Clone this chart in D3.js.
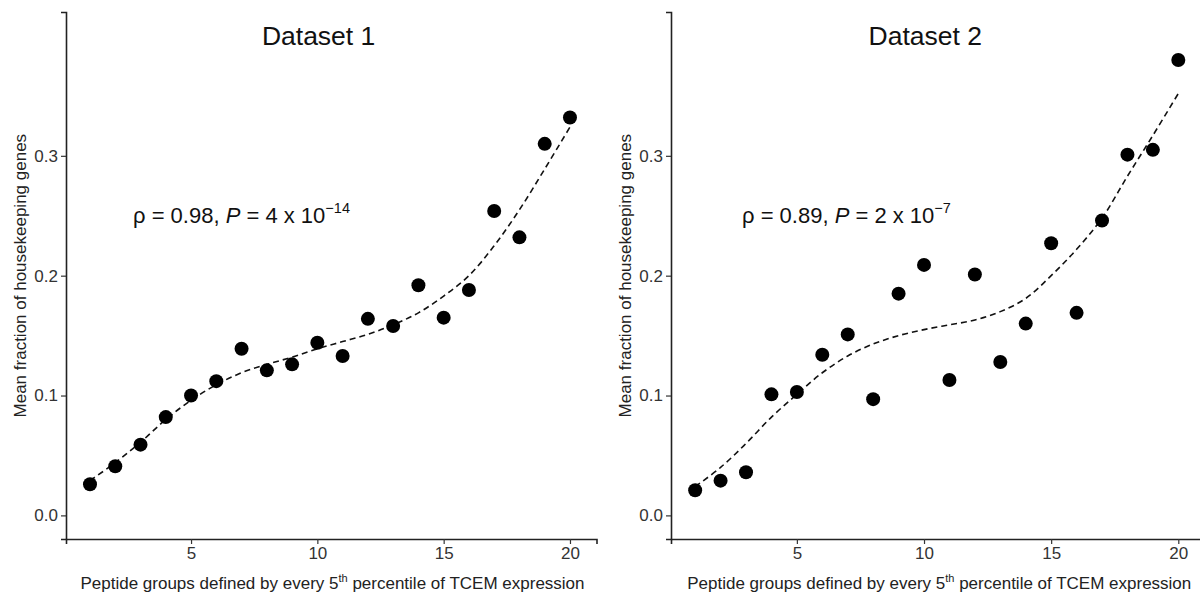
<!DOCTYPE html>
<html>
<head>
<meta charset="utf-8">
<script src="https://cdn.jsdelivr.net/npm/d3@7"></script>
<style>
  body { margin: 0; background: #fff; }
  text { font-family: "Liberation Sans", Arial, sans-serif; }
</style>
</head>
<body>
<div id="chart"></div>
<script>
// peptide groups (every 5th percentile of TCEM expression)
const groups = [1, 2, 3, 4, 5, 6, 7, 8, 9, 10, 11, 12, 13, 14, 15, 16, 17, 18, 19, 20];

// mean fraction of housekeeping genes
const dataset1 = [0.026, 0.041, 0.059, 0.082, 0.100, 0.112, 0.139, 0.121, 0.126, 0.144,
                  0.133, 0.164, 0.158, 0.192, 0.165, 0.188, 0.254, 0.232, 0.310, 0.332];
const dataset2 = [0.021, 0.029, 0.036, 0.101, 0.103, 0.134, 0.151, 0.097, 0.185, 0.209,
                  0.113, 0.201, 0.128, 0.160, 0.227, 0.169, 0.246, 0.301, 0.305, 0.380];

// dashed smooth fit
const fit1 = [0.029, 0.044, 0.061, 0.080, 0.096, 0.109, 0.119, 0.126, 0.132, 0.139,
              0.145, 0.151, 0.159, 0.169, 0.183, 0.200, 0.225, 0.255, 0.289, 0.324];
const fit2 = [0.024, 0.040, 0.060, 0.082, 0.101, 0.119, 0.133, 0.143, 0.150, 0.155,
              0.159, 0.163, 0.170, 0.181, 0.200, 0.222, 0.248, 0.283, 0.317, 0.352];

const titles = ["Dataset 1", "Dataset 2"];
const rhos = ["0.98", "0.89"];
const pMantissa = ["4", "2"];
const pExponent = ["\u221214", "\u22127"];

const xTicks = [5, 10, 15, 20];
const yTicks = [0.0, 0.1, 0.2, 0.3];

const W = 1200, H = 596;
const svg = d3.select("#chart").append("svg")
  .attr("width", W).attr("height", H);

const panels = [
  {x0: 66,  x1: 596.5, annX: 133, values: dataset1, fit: fit1},
  {x0: 671, x1: 1205,  annX: 742, values: dataset2, fit: fit2}
];

const plotTop = 12, plotBottom = 539;

panels.forEach((p, i) => {
  const g = svg.append("g");

  const x = d3.scaleLinear().domain([0.05, 21.05]).range([p.x0, p.x1]);
  const y = d3.scaleLinear().domain([-0.0197, 0.42]).range([plotBottom, plotTop]);

  // axes
  const xAxis = g.append("g")
    .attr("transform", `translate(0,${plotBottom})`)
    .call(d3.axisBottom(x).tickValues(xTicks).tickSizeOuter(0).tickSize(5).tickPadding(3));
  const yAxis = g.append("g")
    .attr("transform", `translate(${p.x0},0)`)
    .call(d3.axisLeft(y).tickValues(yTicks).tickFormat(d3.format(".1f")).tickSizeOuter(0).tickSize(5).tickPadding(3));

  [xAxis, yAxis].forEach(a => {
    a.select(".domain").attr("stroke", "#222").attr("stroke-width", 1.6);
    a.selectAll(".tick line").attr("stroke", "#333").attr("stroke-width", 1.2);
    a.selectAll(".tick text")
      .attr("fill", "#333")
      .style("font-size", "17px")
      .style("font-family", "'Liberation Sans', Arial, sans-serif");
  });

  // axis titles
  const xt = g.append("text")
    .attr("x", x(10.6))
    .attr("y", 589)
    .attr("text-anchor", "middle")
    .attr("fill", "#222")
    .style("font-size", "17px");
  xt.append("tspan").text("Peptide groups defined by every 5");
  xt.append("tspan").attr("dy", -7).style("font-size", "11px").text("th");
  xt.append("tspan").attr("dy", 7).text(" percentile of TCEM expression");

  g.append("text")
    .attr("transform", `translate(${p.x0 - 40},${y(0.2)}) rotate(-90)`)
    .attr("text-anchor", "middle")
    .attr("fill", "#222")
    .style("font-size", "17px")
    .text("Mean fraction of housekeeping genes");

  // panel title
  g.append("text")
    .attr("x", x(10.05))
    .attr("y", 45)
    .attr("text-anchor", "middle")
    .attr("fill", "#111")
    .style("font-size", "26.5px")
    .text(titles[i]);

  // correlation annotation
  const ann = g.append("text")
    .attr("x", p.annX)
    .attr("y", 223)
    .attr("fill", "#111")
    .style("font-size", "22px");
  ann.append("tspan").text(`\u03c1 = ${rhos[i]}, `);
  ann.append("tspan").style("font-style", "italic").text("P");
  ann.append("tspan").text(` = ${pMantissa[i]} x 10`);
  ann.append("tspan").attr("dy", -10).style("font-size", "14.5px").text(pExponent[i]);

  // smooth fit
  const line = d3.line()
    .x((d, j) => x(groups[j]))
    .y(d => y(d))
    .curve(d3.curveCatmullRom);
  g.append("path")
    .datum(p.fit)
    .attr("d", line)
    .attr("fill", "none")
    .attr("stroke", "#111")
    .attr("stroke-width", 1.6)
    .attr("stroke-dasharray", "6,4");

  // points
  g.selectAll("circle")
    .data(p.values)
    .join("circle")
    .attr("cx", (d, j) => x(groups[j]))
    .attr("cy", d => y(d))
    .attr("r", 7)
    .attr("fill", "#000");
});
</script>
</body>
</html>
